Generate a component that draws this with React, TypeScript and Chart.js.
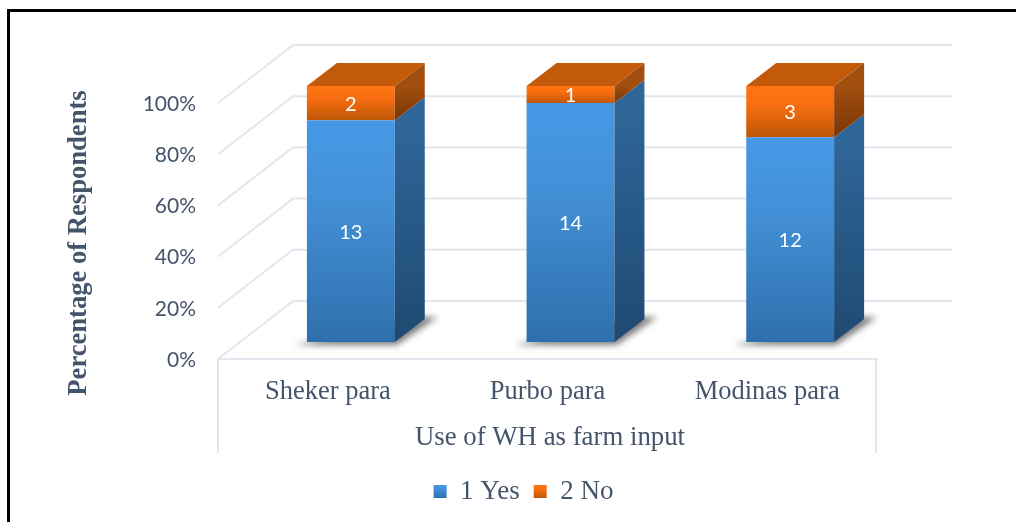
import React, { useEffect, useRef } from "react";
import { Chart, registerables } from "chart.js";

Chart.register(...registerables);

const categories = ["Sheker para", "Purbo para", "Modinas para"];
const yesCounts = [13, 14, 12];
const noCounts = [2, 1, 3];
const percentTicks = [0, 20, 40, 60, 80, 100];
const seriesNames = ["1 Yes", "2 No"];
const yAxisTitle = "Percentage of Respondents";
const xAxisTitle = "Use of WH as farm input";

const yesPercent = yesCounts.map((v, i) => (v / (v + noCounts[i])) * 100);
const noPercent = noCounts.map((v, i) => (v / (v + yesCounts[i])) * 100);

const TEXT = "#44546A";
const GRID = "#E2E6EE";
const WALL_DX = 75;
const WALL_DY = -58;
const BAR_DX = 23;
const BAR_DY = -17;
const DEPTH_DX = 30;
const DEPTH_DY = -23;
const SERIF = "'Liberation Serif', serif";

function line(ctx: CanvasRenderingContext2D, x1: number, y1: number, x2: number, y2: number) {
  ctx.beginPath();
  ctx.moveTo(x1, y1);
  ctx.lineTo(x2, y2);
  ctx.stroke();
}

function poly(ctx: CanvasRenderingContext2D, pts: number[][]) {
  ctx.beginPath();
  pts.forEach((p, i) => (i ? ctx.lineTo(p[0], p[1]) : ctx.moveTo(p[0], p[1])));
  ctx.closePath();
  ctx.fill();
}

const frameAndWalls = {
  id: "frameAndWalls",
  afterLayout(chart: any) {
    const lg = chart.legend;
    lg.left += 55;
    lg.right += 55;
    lg.top += 8;
    lg.bottom += 8;
  },
  beforeDatasetsDraw(chart: any) {
    const { ctx, chartArea: a, scales } = chart;
    const y = scales.y;
    ctx.save();
    ctx.strokeStyle = "#000";
    ctx.lineWidth = 3;
    ctx.beginPath();
    ctx.moveTo(8.5, 522);
    ctx.lineTo(8.5, 10.5);
    ctx.lineTo(1016, 10.5);
    ctx.stroke();

    ctx.strokeStyle = GRID;
    ctx.lineWidth = 2;
    percentTicks.forEach((t) => {
      const py = y.getPixelForValue(t);
      line(ctx, a.left, py, a.left + WALL_DX, py + WALL_DY);
      line(ctx, a.left + WALL_DX, py + WALL_DY, a.right + WALL_DX, py + WALL_DY);
    });
    line(ctx, a.left - 1, a.bottom, a.right + 1, a.bottom);
    line(ctx, a.left, a.bottom, a.left, 453);
    line(ctx, a.right - 1, a.bottom, a.right - 1, 453);

    // axis titles
    ctx.fillStyle = TEXT;
    ctx.textAlign = "center";
    ctx.textBaseline = "middle";
    ctx.font = `26.8px ${SERIF}`;
    ctx.fillText(xAxisTitle, 550, 438);
    ctx.save();
    ctx.translate(79, 243);
    ctx.rotate(-Math.PI / 2);
    ctx.font = `bold 26.6px ${SERIF}`;
    ctx.fillText(yAxisTitle, 0, 0);
    ctx.restore();

    // soft shadow on the floor under each bar
    const meta = chart.getDatasetMeta(0);
    meta.data.forEach((bar: any) => {
      const l = bar.x - bar.width / 2 + BAR_DX;
      const r = bar.x + bar.width / 2 + BAR_DX;
      const b = bar.base + BAR_DY;
      ctx.save();
      ctx.filter = "blur(3px)";
      ctx.fillStyle = "rgba(70,70,70,0.7)";
      poly(ctx, [
        [l - 12, b + 3],
        [r + 2, b + 3],
        [r + DEPTH_DX + 13, b + DEPTH_DY - 2],
        [r + DEPTH_DX - 8, b + DEPTH_DY - 2],
      ]);
      ctx.restore();
    });
    ctx.restore();
    // bars are drawn on their own plane, behind the front of the floor
    ctx.save();
    ctx.translate(BAR_DX, BAR_DY);
  },
  afterDatasetsDraw(chart: any) {
    const { ctx } = chart;
    ctx.restore();
    ctx.save();
    ctx.translate(BAR_DX, BAR_DY);
    const n = chart.data.datasets.length;
    const sideColors = [
      ["#2F6699", "#1E4A72"],
      ["#A24E0F", "#793606"],
    ];
    chart.data.datasets.forEach((_: any, di: number) => {
      chart.getDatasetMeta(di).data.forEach((bar: any) => {
        const r = bar.x + bar.width / 2;
        const l = bar.x - bar.width / 2;
        const top = Math.min(bar.y, bar.base);
        const bot = Math.max(bar.y, bar.base);
        const g = ctx.createLinearGradient(0, top, 0, bot);
        g.addColorStop(0, sideColors[di][0]);
        g.addColorStop(1, sideColors[di][1]);
        ctx.fillStyle = g;
        poly(ctx, [
          [r, top],
          [r + DEPTH_DX, top + DEPTH_DY],
          [r + DEPTH_DX, bot + DEPTH_DY],
          [r, bot],
        ]);
        if (di === n - 1) {
          ctx.fillStyle = "#C25A0A";
          poly(ctx, [
            [l, top],
            [l + DEPTH_DX, top + DEPTH_DY],
            [r + DEPTH_DX, top + DEPTH_DY],
            [r, top],
          ]);
        }
      });
    });
    // count labels
    ctx.fillStyle = "#FFFFFF";
    ctx.font = "20px Lato, 'Open Sans', sans-serif";
    ctx.textAlign = "center";
    ctx.textBaseline = "middle";
    [yesCounts, noCounts].forEach((counts, di) => {
      chart.getDatasetMeta(di).data.forEach((bar: any, i: number) => {
        ctx.fillText(String(counts[i]), bar.x, (bar.y + bar.base) / 2 + 1);
      });
    });
    ctx.restore();
  },
};

function frontGradient(c: any, stops: [number, string][]) {
  const chart = c.chart;
  const y = chart.scales && chart.scales.y;
  const i = c.dataIndex;
  const start = c.datasetIndex === 0 ? 0 : yesPercent[i];
  const end = c.datasetIndex === 0 ? yesPercent[i] : 100;
  const bot = y ? y.getPixelForValue(start) : NaN;
  const top = y ? y.getPixelForValue(end) : NaN;
  if (!Number.isFinite(top) || !Number.isFinite(bot)) return stops[0][1];
  const g = chart.ctx.createLinearGradient(0, top, 0, bot);
  stops.forEach(([p, col]) => g.addColorStop(p, col));
  return g;
}

const BLUE_STOPS: [number, string][] = [
  [0, "#4699E6"],
  [0.35, "#4490D8"],
  [1, "#2E70AC"],
];
const ORANGE_STOPS: [number, string][] = [
  [0, "#FF7512"],
  [0.35, "#F96F10"],
  [1, "#BE5708"],
];

export default function App() {
  const ref = useRef<HTMLCanvasElement>(null);
  useEffect(() => {
    document.body.style.margin = "0";
    const cv = ref.current!;
    const c2d = cv.getContext("2d")!;
    const legendGrad = (stops: [number, string][]) => {
      const g = c2d.createLinearGradient(0, 484, 0, 498);
      stops.forEach(([p, col]) => g.addColorStop(p, col));
      return g;
    };
    const chart = new Chart(cv, {
      type: "bar",
      data: {
        labels: categories,
        datasets: [
          {
            label: seriesNames[0],
            data: yesPercent,
            backgroundColor: (c: any) => frontGradient(c, BLUE_STOPS),
            barPercentage: 0.4,
            categoryPercentage: 1,
            clip: false,
          },
          {
            label: seriesNames[1],
            data: noPercent,
            backgroundColor: (c: any) => frontGradient(c, ORANGE_STOPS),
            barPercentage: 0.4,
            categoryPercentage: 1,
            clip: false,
          },
        ],
      } as any,
      options: {
        responsive: false,
        animation: false,
        layout: { padding: { left: 60, right: 139, top: 103, bottom: 15 } },
        scales: {
          x: {
            stacked: true,
            grid: { display: false },
            border: { display: false },
            ticks: { color: TEXT, font: { family: SERIF, size: 26.5 }, padding: 9, maxRotation: 0 },
            afterFit: (s: any) => {
              s.height = 97;
            },
          },
          y: {
            stacked: true,
            min: 0,
            max: 100,
            grid: { display: false },
            border: { display: false },
            afterBuildTicks: (s: any) => {
              s.ticks = percentTicks.map((value) => ({ value }));
            },
            ticks: {
              color: TEXT,
              font: { family: "Lato, 'Open Sans', sans-serif", size: 21 },
              padding: 14,
              labelOffset: 1,
              callback: (v: any) => `${v}%`,
            },
            afterFit: (s: any) => {
              s.width = 158;
            },
          },
        },
        plugins: {
          title: { display: false },
          tooltip: { enabled: false },
          legend: {
            position: "bottom",
            labels: {
              color: TEXT,
              font: { family: SERIF, size: 27 },
              boxWidth: 13,
              boxHeight: 13,
              padding: 14,
              generateLabels: () => [
                { text: seriesNames[0], fillStyle: legendGrad(BLUE_STOPS), strokeStyle: "transparent", lineWidth: 0, datasetIndex: 0, fontColor: TEXT },
                { text: seriesNames[1], fillStyle: legendGrad(ORANGE_STOPS), strokeStyle: "transparent", lineWidth: 0, datasetIndex: 1, fontColor: TEXT },
              ],
            },
          },
        },
      } as any,
      plugins: [frameAndWalls] as any,
    });
    return () => chart.destroy();
  }, []);
  return <canvas ref={ref} width={1016} height={522} style={{ display: "block" }} />;
}
